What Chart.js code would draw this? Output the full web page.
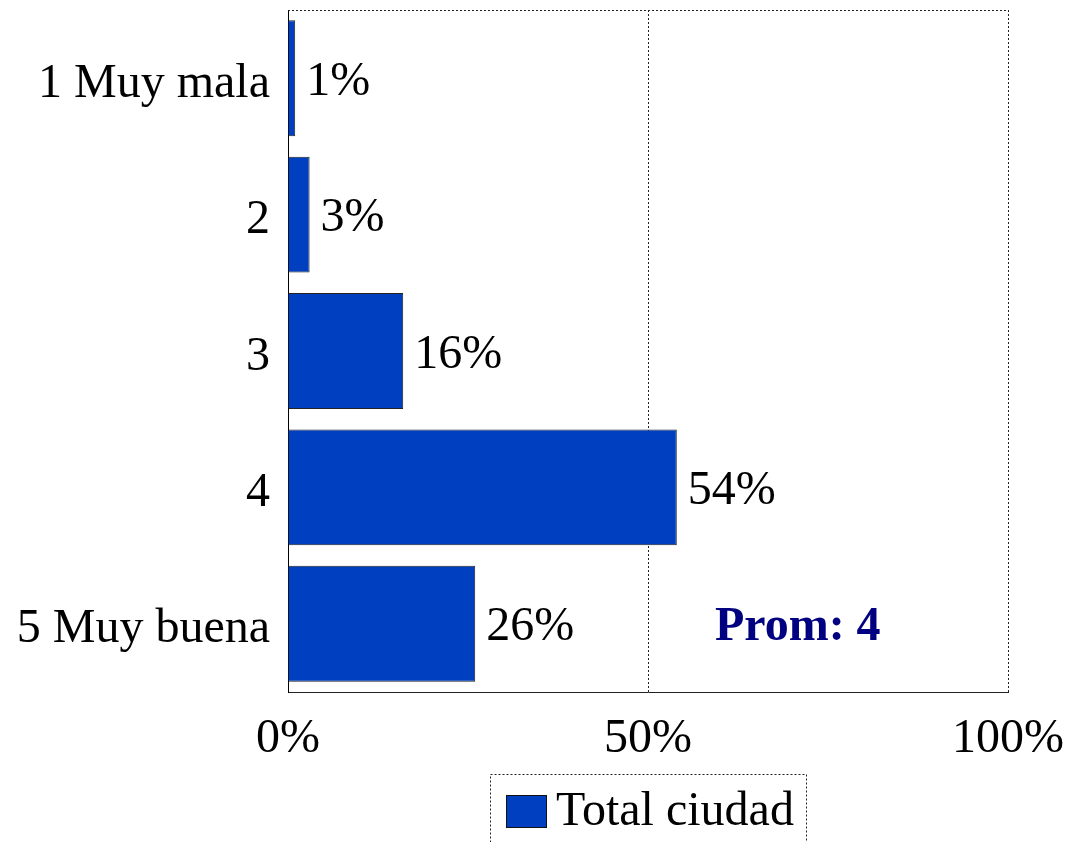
<!DOCTYPE html>
<html>
<head>
<meta charset="utf-8">
<script src="https://cdn.jsdelivr.net/npm/chart.js@4"></script>
<style>
  html, body { margin: 0; padding: 0; background: #fff; }
  #wrap { width: 1066px; height: 842px; }
</style>
</head>
<body>
<div id="wrap"><canvas id="grafico" width="1066" height="842"></canvas></div>
<script>
// datos del gráfico
const categorias = ['1 Muy mala', '2', '3', '4', '5 Muy buena'];
const valores = [1, 3, 16, 54, 26];
const serieNombre = 'Total ciudad';
const ticksX = [0, 50, 100];
const promedioTexto = 'Prom: 4';

const FUENTE = "'Liberation Serif', 'Times New Roman', serif";
const TAM = 48;
const AZUL = '#0040C0';

// quita el relleno que Chart.js agrega por las etiquetas
function sinRelleno(s) {
    s.paddingTop = 0;
    s.paddingBottom = 0;
    s.paddingLeft = 0;
    s.paddingRight = 0;
}

// etiquetas, borde superior, texto de promedio y leyenda
const extras = {
    id: 'extras',
    afterDatasetsDraw(chart) {
        const ctx = chart.ctx;
        const area = chart.chartArea;
        const xs = chart.scales.x;
        const ys = chart.scales.y;
        ctx.save();

        // borde superior punteado
        ctx.strokeStyle = '#222';
        ctx.lineWidth = 1;
        ctx.setLineDash([2, 2]);
        ctx.beginPath();
        ctx.moveTo(area.left, area.top + 0.5);
        ctx.lineTo(area.right, area.top + 0.5);
        ctx.stroke();
        ctx.setLineDash([]);

        // etiquetas de valor
        ctx.font = TAM + 'px ' + FUENTE;
        ctx.fillStyle = '#000';
        ctx.textBaseline = 'middle';
        ctx.textAlign = 'left';
        chart.getDatasetMeta(0).data.forEach((bar, i) => {
            ctx.fillText(valores[i] + '%', bar.x + 11, bar.y + 4);
        });

        // promedio
        ctx.font = 'bold ' + TAM + 'px ' + FUENTE;
        ctx.fillStyle = '#000080';
        ctx.textAlign = 'center';
        ctx.fillText(promedioTexto, xs.getPixelForValue(70.8), ys.getPixelForValue(4) + 4);

        // leyenda
        ctx.font = TAM + 'px ' + FUENTE;
        const bx = 490, by = 774, bw = 316, bh = 80;
        ctx.strokeStyle = '#222';
        ctx.setLineDash([2, 2]);
        ctx.strokeRect(bx + 0.5, by + 0.5, bw, bh);
        ctx.setLineDash([]);
        ctx.fillStyle = AZUL;
        ctx.fillRect(506, 795, 40, 32);
        ctx.strokeStyle = '#111';
        ctx.strokeRect(506.5, 795.5, 40, 32);
        ctx.fillStyle = '#000';
        ctx.textAlign = 'left';
        ctx.fillText(serieNombre, 556, 812);

        ctx.restore();
    }
};

new Chart(document.getElementById('grafico'), {
    type: 'bar',
    data: {
        labels: categorias,
        datasets: [{
            label: serieNombre,
            data: valores,
            backgroundColor: AZUL,
            borderColor: '#222',
            borderWidth: 1,
            categoryPercentage: 1,
            barPercentage: 0.85
        }]
    },
    options: {
        indexAxis: 'y',
        responsive: false,
        animation: false,
        layout: { padding: { top: 10, right: 58, left: 0, bottom: 80 } },
        plugins: {
            legend: { display: false },
            tooltip: { enabled: false }
        },
        scales: {
            x: {
                min: 0,
                max: 100,
                afterFit: (s) => { s.height = 70; sinRelleno(s); },
                afterBuildTicks: (s) => { s.ticks = ticksX.map(v => ({ value: v })); },
                ticks: {
                    padding: 19,
                    color: '#000',
                    font: { family: FUENTE, size: TAM },
                    callback: (v) => v + '%'
                },
                grid: {
                    drawTicks: false,
                    color: '#222',
                    lineWidth: 1
                },
                border: { display: true, color: '#222', dash: [2, 2] }
            },
            y: {
                afterFit: (s) => { s.width = 288; sinRelleno(s); },
                ticks: {
                    padding: 10,
                    labelOffset: 6,
                    color: '#000',
                    font: { family: FUENTE, size: TAM }
                },
                grid: { display: false },
                border: { display: true, color: '#000', width: 1 }
            }
        }
    },
    plugins: [extras]
});
</script>
</body>
</html>
